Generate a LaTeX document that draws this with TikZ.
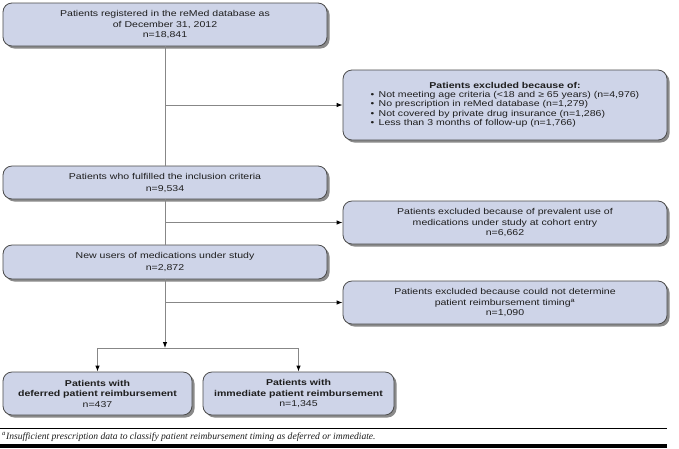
\documentclass[tikz,border=0pt]{standalone}
\usepackage{fontspec}
\usepackage{xcolor}
\usetikzlibrary{arrows.meta,shadows,positioning}

\setmainfont{Liberation Sans}
\newfontfamily\widesans[FakeStretch=1.24]{Liberation Sans}
\newfontfamily\notefont{Liberation Serif}

\definecolor{boxfill}{RGB}{206,212,232}
\definecolor{boxline}{RGB}{75,75,75}
\definecolor{linegray}{RGB}{135,135,135}
\definecolor{txtgray}{RGB}{30,30,30}

\tikzset{
	flowbox/.style={draw=boxline, fill=boxfill, rounded corners=9pt, line width=0.8pt,
		align=center, text=txtgray, inner sep=0pt,
		drop shadow={shadow xshift=2.5pt, shadow yshift=-2.5pt, fill=black!65, opacity=0.7},
		font=\widesans\fontsize{8.5}{10.5}\selectfont},
	twolinebox/.style={flowbox, font=\widesans\fontsize{8.5}{12}\selectfont},
	groupbox/.style={flowbox, font=\widesans\bfseries\fontsize{8.5}{10.5}\selectfont},
	flowline/.style={draw=linegray, line width=0.9pt},
	flowarrow/.style={flowline, -{Latex[length=6pt,width=4.5pt,color=black]}},
}

\begin{document}
\begin{tikzpicture}[x=1pt,y=-1pt]
				% flow chart of the cohort selection
				\fill[white] (0,0) rectangle (679,448);
				\useasboundingbox (0,0) rectangle (679,448);
				
				% main column
				\node[flowbox, minimum width=324pt, minimum height=43pt] (reg) at (165,24.5)
				{Patients registered in the reMed database as\\of December 31, 2012\\n=18,841};
				\node[twolinebox, minimum width=324pt, minimum height=33pt] (incl) at (165,182.5)
				{Patients who fulfilled the inclusion criteria\\n=9,534};
				\node[twolinebox, minimum width=324pt, minimum height=34pt] (newu) at (165,262)
				{New users of medications under study\\n=2,872};
				
				% excluded patients
				\node[flowbox, minimum width=324pt, minimum height=70pt,
				font=\widesans\fontsize{8.5}{9.2}\selectfont] (exA) at (505,105)
				{\begin{tabular}{@{}l@{}}
						\multicolumn{1}{c}{\bfseries Patients excluded because of:}\\
						\textbullet\enspace Not meeting age criteria (<18 and ≥ 65 years) (n=4,976)\\
						\textbullet\enspace No prescription in reMed database (n=1,279)\\
						\textbullet\enspace Not covered by private drug insurance (n=1,286)\\
						\textbullet\enspace Less than 3 months of follow-up (n=1,766)
				\end{tabular}};
				\node[flowbox, minimum width=324pt, minimum height=43pt] (exB) at (505,222.5)
				{Patients excluded because of prevalent use of\\medications under study at cohort entry\\n=6,662};
				\node[flowbox, minimum width=324pt, minimum height=43pt] (exC) at (505,302.5)
				{Patients excluded because could not determine\\patient reimbursement timing\textsuperscript{a}\\n=1,090};
				
				% the two groups
				\node[groupbox, minimum width=189pt, minimum height=43pt] (defr) at (97.5,393.5)
				{Patients with\\deferred patient reimbursement\\\mdseries n=437};
				\node[groupbox, minimum width=191pt, minimum height=43pt] (immd) at (298.5,393.5)
				{Patients with\\immediate patient reimbursement\\\mdseries n=1,345};
				
				% connectors
				\coordinate (tA) at (reg.south |- exA.west);
				\coordinate (tB) at (incl.south |- exB.west);
				\coordinate (tC) at (newu.south |- exC.west);
				\coordinate (split) at (newu.south |- 0,348);
				\draw[flowline] (reg) -- (incl);
				\draw[flowline] (incl) -- (newu);
				\draw[flowarrow] (tA) -- (exA);
				\draw[flowarrow] (tB) -- (exB);
				\draw[flowarrow] (tC) -- (exC);
				\draw[flowarrow] (newu) -- (split);
				\draw[flowarrow] (split) -| (defr);
				\draw[flowarrow] (split) -| (immd);
				
				% footnote
				\draw[line width=1pt] (0,428) -- (667,428);
				\node[anchor=west, inner sep=0pt, text=txtgray,
				font=\notefont\itshape\fontsize{9.6}{11}\selectfont] (note) at (2,437)
				{\textsuperscript{a}Insufficient prescription data to classify patient reimbursement timing as deferred or immediate.};
				\fill (0,444) rectangle (667,448);
				
			\end{tikzpicture}
\end{document}
